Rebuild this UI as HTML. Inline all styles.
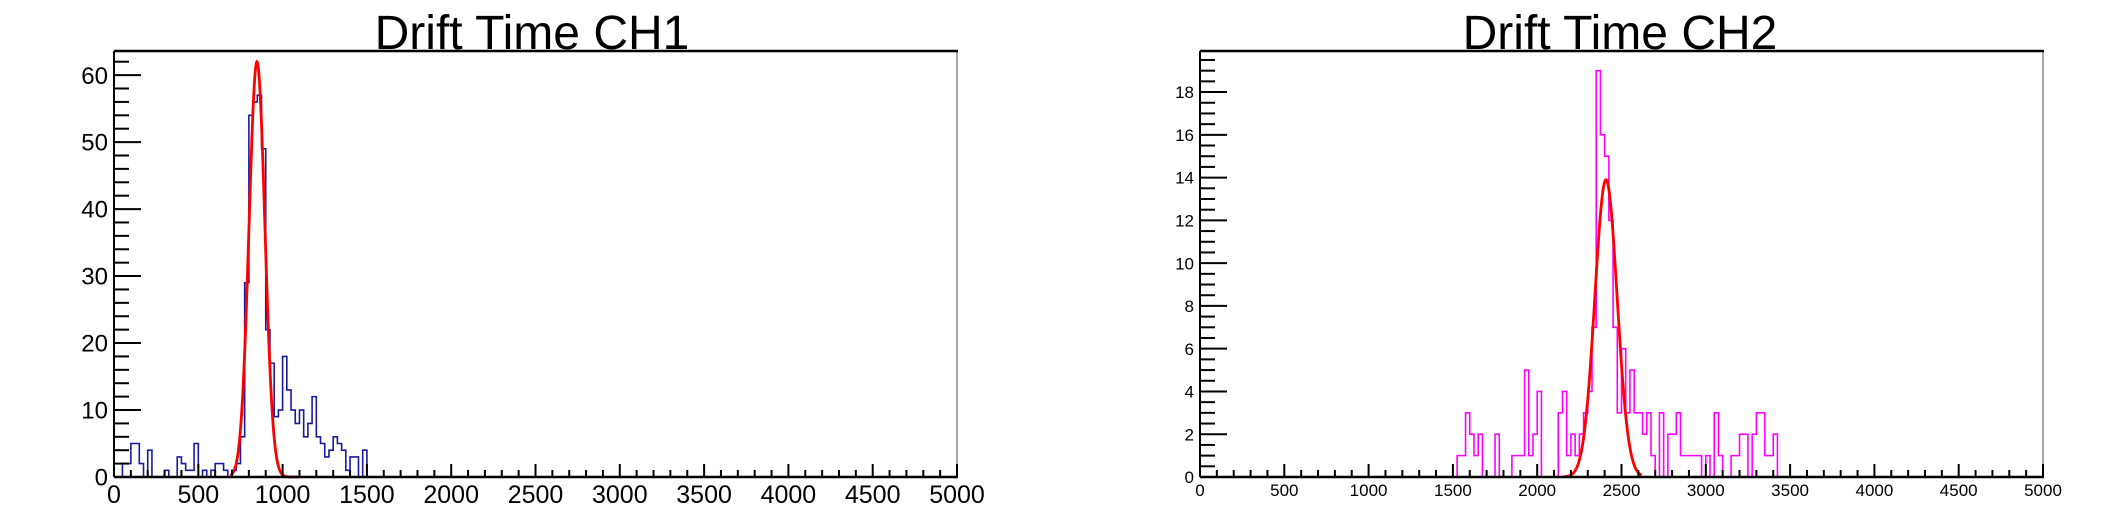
<!DOCTYPE html>
<html><head><meta charset="utf-8"><style>
html,body{margin:0;padding:0;background:#fff;}
svg{display:block;font-family:"Liberation Sans",Arial,sans-serif;}
</style></head><body>
<svg id="c" width="2106" height="528" viewBox="0 0 2106 528" xmlns="http://www.w3.org/2000/svg"></svg>
<script>
// CH1 data (bin width 25, starting at 0)
const ch1Start = 0;
const ch1Values = [0,0,2,2,5,5,2,0,4,0,0,0,1,0,0,3,2,1,1,5,0,1,0,1,2,2,1,0,1,2,6,29,54,56,57,49,22,17,9,10,18,13,10,8,10,6,8,12,6,5,3,4,6,5,4,1,3,3,0,4];
const ch1Fit = [62, 848, 47]; // amplitude, mean, sigma
const ch1FitRange = [690, 1100];
// CH2 data (bin width 25, starting at 1525)
const ch2Start = 1525;
const ch2Values = [1,1,3,2,1,2,0,0,0,2,0,0,0,1,1,1,5,1,2,4,0,0,0,0,3,4,1,2,1,2,3,4,7,19,16,15,12,7,3,6,3,5,3,3,2,3,1,0,3,0,2,2,3,1,1,1,1,1,0,1,0,3,1,0,0,1,1,2,2,0,2,3,3,1,1,2,0];
const ch2Fit = [13.9, 2408, 66];
const ch2FitRange = [2150, 2620];
const xTicks = [0,500,1000,1500,2000,2500,3000,3500,4000,4500,5000];
const ch1YTicks = [0,10,20,30,40,50,60];
const ch2YTicks = [0,2,4,6,8,10,12,14,16,18];

const svg = document.getElementById('c');
const NS = 'http://www.w3.org/2000/svg';
function mk(tag, attrs, parent){const e=document.createElementNS(NS,tag);for(const k in attrs)e.setAttribute(k,attrs[k]);(parent||svg).appendChild(e);return e;}

function drawPanel(p){
  const g = mk('g',{});
  
  
  const X = v => p.x0 + (v/5000)*(p.x1-p.x0);
  const Y = v => p.yb - (v/p.ymax)*(p.yb-p.yt);
  // title
  const t = mk('text',{x:p.tx,y:49,'font-size':48,'text-anchor':'middle',fill:'#000'},g);
  t.textContent = p.title;
  
  
  // frame
  mk('line',{x1:p.x1,y1:p.yt,x2:p.x1,y2:p.yb,stroke:'#888','stroke-width':1.5},g);
  mk('line',{x1:p.x0,y1:p.yt,x2:p.x1+1,y2:p.yt,stroke:'#000','stroke-width':2.5},g);
  // histogram
  let d = '';
  let x = p.start;
  d += 'M'+X(x)+','+Y(0);
  p.vals.forEach(v=>{ d+=' L'+X(x)+','+Y(v)+' L'+X(x+25)+','+Y(v); x+=25; });
  d += ' L'+X(x)+','+Y(0);
  const h = mk('path',{d:d,fill:'none',stroke:p.color,'stroke-width':1.6},g);
  
  
  // fit
  let fd='';
  for(let v=p.fr[0]; v<=p.fr[1]; v+=2){
    const [A,m,s]=p.fit; const yv=A*Math.exp(-((v-m)*(v-m))/(2*s*s));
    fd += (fd?' L':'M')+X(v).toFixed(2)+','+Y(yv).toFixed(2);
  }
  const f = mk('path',{d:fd,fill:'none',stroke:'#ff0000','stroke-width':2.8},g);
  
  
  // axes
  mk('line',{x1:p.x0,y1:p.yt,x2:p.x0,y2:p.yb,stroke:'#000','stroke-width':2},g);
  mk('line',{x1:p.x0,y1:p.yb,x2:p.x1+1,y2:p.yb,stroke:'#000','stroke-width':2.5},g);
  // x ticks
  for(let v=0; v<=5000; v+=100){
    const major = v%500===0;
    mk('line',{x1:X(v),y1:p.yb,x2:X(v),y2:p.yb-(major?13:7),stroke:'#000','stroke-width':2},g);
  }
  xTicks.forEach(v=>{
    const l = mk('text',{x:X(v),y:p.xly,'font-size':p.xfs,'text-anchor':'middle',fill:'#000'},g);
    l.textContent = v;
    
    
  });
  // y ticks
  for(let v=0; v<=p.ymax+1e-9; v=Math.round((v+p.ymin)*1000)/1000){
    const major = Math.abs(v/p.ymaj-Math.round(v/p.ymaj))<1e-6;
    mk('line',{x1:p.x0,y1:Y(v),x2:p.x0+(major?27:15),y2:Y(v),stroke:'#000','stroke-width':2},g);
  }
  p.yticks.forEach(v=>{
    const l = mk('text',{x:p.x0-6,y:Y(v)+p.yfs*0.36,'font-size':p.yfs,'text-anchor':'end',fill:'#000'},g);
    l.textContent = v;
    
    
  });
}
drawPanel({name:'ch1-panel',title:'Drift Time CH1',x0:114,x1:957,yt:51,yb:477,ymax:63.6,ymaj:10,ymin:2,
  start:ch1Start,vals:ch1Values,fit:ch1Fit,fr:ch1FitRange,color:'#1a1aa0',tx:532,xly:503,xfs:25,yfs:24,yticks:ch1YTicks});
drawPanel({name:'ch2-panel',title:'Drift Time CH2',x0:1200,x1:2043,yt:51,yb:477,ymax:19.92,ymaj:2,ymin:0.5,
  start:ch2Start,vals:ch2Values,fit:ch2Fit,fr:ch2FitRange,color:'#ff00ff',tx:1620,xly:496,xfs:17,yfs:17,yticks:ch2YTicks});
</script>
</body></html>
